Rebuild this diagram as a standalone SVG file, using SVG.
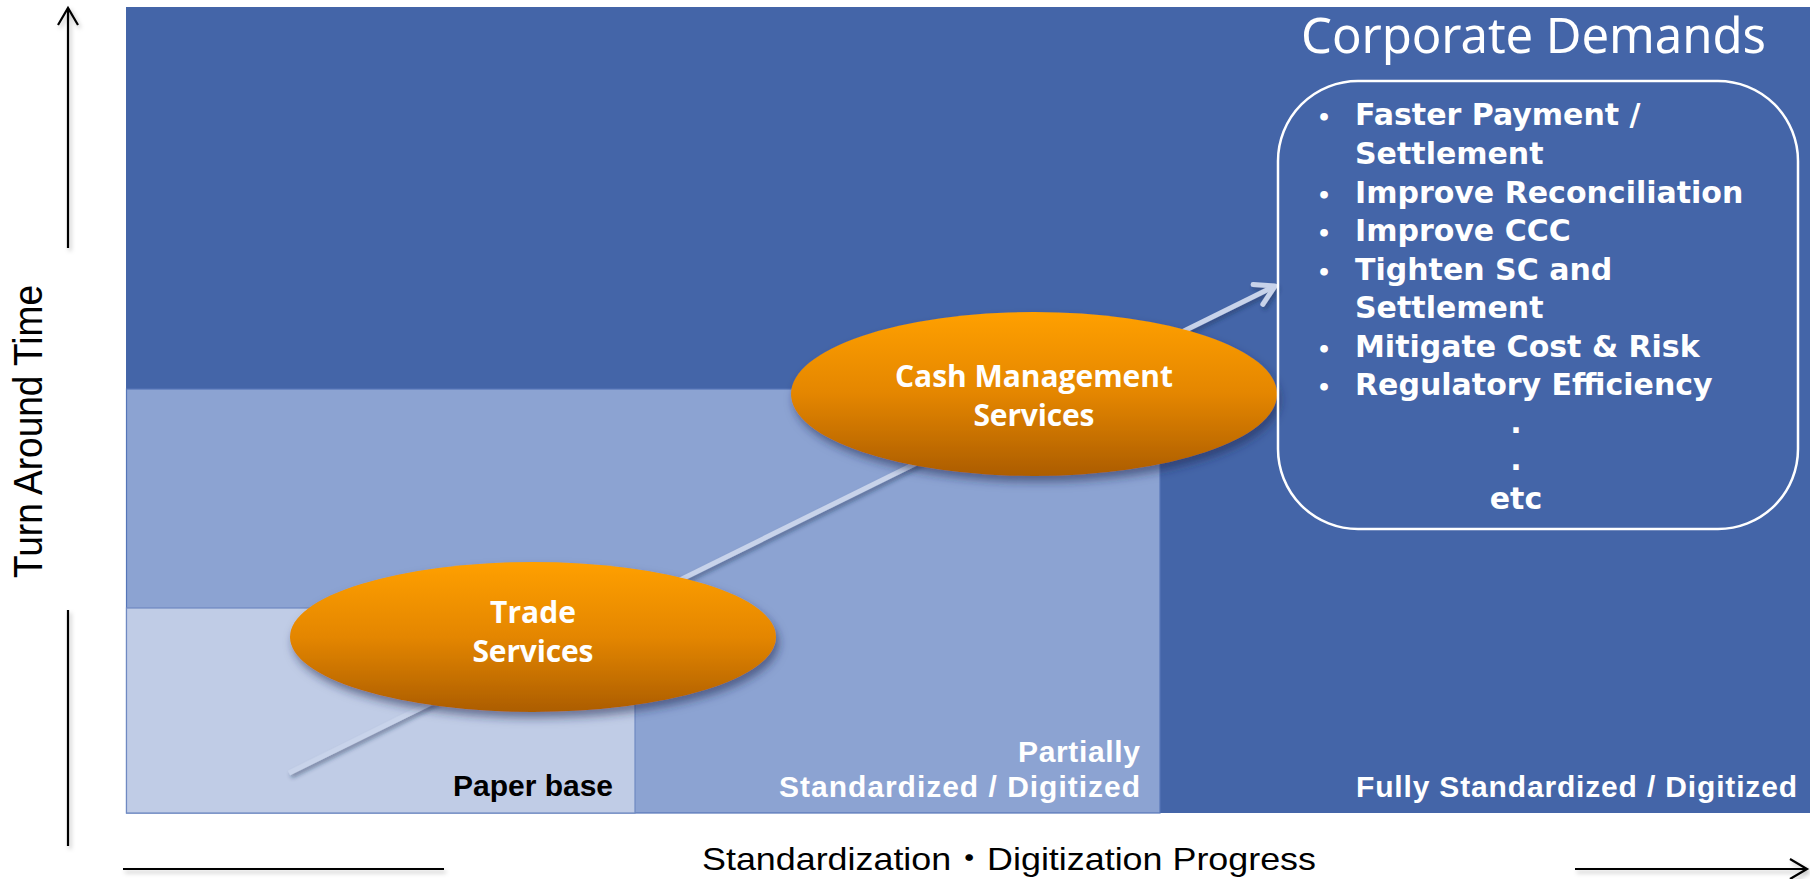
<svg xmlns="http://www.w3.org/2000/svg" width="1810" height="879" viewBox="0 0 1810 879">
<defs>
<style>
.axis{stroke:#000;stroke-width:2.2;fill:none;filter:url(#lsh)}
.axtxt{font-family:"Liberation Sans",Arial,"Noto Sans CJK JP",sans-serif;font-size:40px;fill:#000}
.lbl{font-family:"Liberation Sans",Arial,sans-serif;font-weight:700;font-size:30px}
.oval{fill:url(#og);filter:url(#sh)}
.otxt{font-family:"Open Sans","Liberation Sans",sans-serif;font-weight:700;font-size:30px;fill:#fff;text-anchor:middle}
.dem{font-family:"DejaVu Sans","Verdana",sans-serif;font-weight:700;font-size:30px;fill:#fff}
</style>
<linearGradient id="og" x1="0" y1="0" x2="0" y2="1">
<stop offset="0" stop-color="#FFA000"/>
<stop offset="0.5" stop-color="#E48600"/>
<stop offset="1" stop-color="#AC5D00"/>
</linearGradient>
<filter id="sh" x="-20%" y="-30%" width="140%" height="170%">
<feDropShadow dx="3" dy="6" stdDeviation="5" flood-color="#1a2a50" flood-opacity="0.55"/>
</filter>
<filter id="lsh" filterUnits="userSpaceOnUse" x="0" y="0" width="1810" height="879">
<feDropShadow dx="2" dy="3" stdDeviation="2" flood-color="#000" flood-opacity="0.25"/>
</filter>
<filter id="ash" x="-10%" y="-10%" width="120%" height="120%">
<feDropShadow dx="2" dy="3" stdDeviation="2" flood-color="#1a2a50" flood-opacity="0.45"/>
</filter>
<marker id="ah" markerUnits="userSpaceOnUse" markerWidth="40" markerHeight="40" viewBox="-24 -20 30 40" refX="0" refY="0" orient="auto">
<path d="M-17,-10 L0,0 L-17,10" fill="none" stroke="#000" stroke-width="2.2"/>
</marker>
<marker id="dh" markerUnits="userSpaceOnUse" markerWidth="40" markerHeight="40" viewBox="-26 -20 32 40" refX="0" refY="0" orient="auto">
<path d="M-19,-11 L0,0 L-19,11" fill="none" stroke="#C8D3EA" stroke-width="5" stroke-linecap="round" stroke-linejoin="round"/>
</marker>
</defs>

<g id="background">
<rect x="126" y="7" width="1684" height="806" fill="#4465A8"/>
<rect x="126.5" y="389" width="1033.5" height="424" fill="#8CA3D2" stroke="#5575B8" stroke-width="1.2"/>
<rect x="126.5" y="608" width="508.5" height="205" fill="#C0CCE6" stroke="#6F89C2" stroke-width="1.2"/>
</g>

<g id="axes">
<path class="axis" d="M68,248 L68,8" marker-end="url(#ah)"/>
<path class="axis" d="M68,610 L68,846"/>
<path class="axis" d="M123,869 L444,869"/>
<path class="axis" d="M1575,869 L1807,869" marker-end="url(#ah)"/>
<text class="axtxt" transform="translate(42,578) rotate(-90)" textLength="293" lengthAdjust="spacingAndGlyphs">Turn Around Time</text>
<text class="axtxt" x="702" y="870" textLength="614" lengthAdjust="spacingAndGlyphs" style="font-size:32px">Standardization・Digitization Progress</text>
</g>

<g id="connectors">
<line x1="289" y1="773" x2="1275" y2="286" stroke="#C8D3EA" stroke-width="5" stroke-linecap="butt" marker-end="url(#dh)" filter="url(#ash)"/>
</g>

<g id="zone-paper">
<text class="lbl" x="613" y="796" text-anchor="end" fill="#000" textLength="160">Paper base</text>
</g>
<g id="zone-partial">
<text class="lbl" text-anchor="end" fill="#fff"><tspan x="1140" y="762" textLength="122">Partially</tspan><tspan x="1140" y="797" textLength="361">Standardized / Digitized</tspan></text>
</g>
<g id="zone-full">
<text class="lbl" x="1797" y="797" text-anchor="end" fill="#fff" textLength="441">Fully Standardized / Digitized</text>
</g>

<g id="trade-services">
<ellipse class="oval" cx="533" cy="637" rx="243" ry="75"/>
<text class="otxt" x="533" y="623">Trade</text>
<text class="otxt" x="533" y="662" textLength="121">Services</text>
</g>

<g id="cash-management">
<ellipse class="oval" cx="1034" cy="394" rx="243" ry="82"/>
<text class="otxt" x="1034" y="387" textLength="278">Cash Management</text>
<text class="otxt" x="1034" y="426" textLength="121">Services</text>
</g>

<g id="corporate-demands">
<text x="1301" y="53" font-family="'Noto Sans','Open Sans',sans-serif" font-size="49" fill="#fff" textLength="465">Corporate Demands</text>
<rect x="1278" y="81" width="520" height="448" rx="80" ry="80" fill="none" stroke="#fff" stroke-width="2.5"/>
<g class="dem">
<text x="1324" y="125" text-anchor="middle" style="font-size:22px">•</text>
<text x="1355" y="125">Faster Payment /</text>
<text x="1355" y="164">Settlement</text>
<text x="1324" y="203" text-anchor="middle" style="font-size:22px">•</text>
<text x="1355" y="203">Improve Reconciliation</text>
<text x="1324" y="241" text-anchor="middle" style="font-size:22px">•</text>
<text x="1355" y="241">Improve CCC</text>
<text x="1324" y="280" text-anchor="middle" style="font-size:22px">•</text>
<text x="1355" y="280">Tighten SC and</text>
<text x="1355" y="318">Settlement</text>
<text x="1324" y="357" text-anchor="middle" style="font-size:22px">•</text>
<text x="1355" y="357">Mitigate Cost &amp; Risk</text>
<text x="1324" y="395" text-anchor="middle" style="font-size:22px">•</text>
<text x="1355" y="395">Regulatory Efficiency</text>
<text x="1516" y="433" text-anchor="middle">.</text>
<text x="1516" y="470" text-anchor="middle">.</text>
<text x="1516" y="509" text-anchor="middle">etc</text>
</g>
</g>
</svg>
